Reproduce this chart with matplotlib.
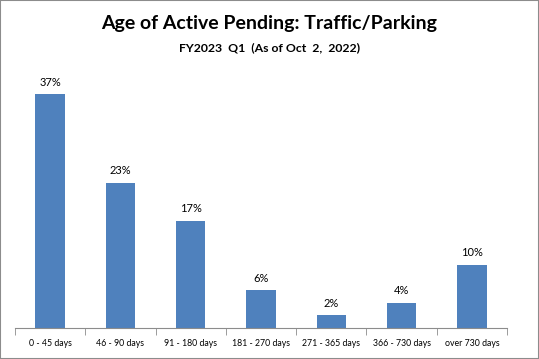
import numpy as np
import matplotlib
matplotlib.use('Agg')
import matplotlib.pyplot as plt

categories = ['0 - 45 days', '46 - 90 days', '91 - 180 days', '181 - 270 days',
              '271 - 365 days', '366 - 730 days', 'over 730 days']
values = [37, 23, 17, 6, 2, 4, 10]

plt.rcParams['font.family'] = ['Lato', 'DejaVu Sans']

fig = plt.figure(figsize=(5.39, 3.59), dpi=100)
fig.patches.append(plt.Rectangle((0, 0), 1, 1, transform=fig.transFigure,
                                 fill=False, edgecolor='#8c8c8c', linewidth=1.5))

# axes: x 15..507 px, bottom at 328 px
ax = fig.add_axes([15 / 539, (359 - 328) / 359, 492 / 539, 268 / 359])
x = np.arange(len(categories))
ax.bar(x, values, width=0.42, color='#4f81bd')
ax.set_xlim(-0.5, len(categories) - 0.5)
ax.set_ylim(0, 268 / 6.32)

for xi, v in zip(x, values):
    ax.text(xi, v + 1.0, '%d%%' % v, ha='center', va='bottom', fontsize=8)

for s in ['top', 'right', 'left']:
    ax.spines[s].set_visible(False)
ax.spines['bottom'].set_color('#8c8c8c')
ax.set_yticks([])
ax.set_xticks(x)
ax.set_xticklabels(categories, fontsize=6.3)
ax.tick_params(axis='x', which='major', length=0, pad=8)
ax.set_xticks(np.arange(-0.5, len(categories)), minor=True)
ax.tick_params(axis='x', which='minor', length=5, color='#8c8c8c')

fig.text(0.5, 1 - 23 / 359, 'Age of Active Pending: Traffic/Parking', ha='center', va='center',
         fontsize=14, fontweight='bold')
fig.text(0.5, 1 - 48 / 359, 'FY2023  Q1  (As of Oct  2,  2022)', ha='center', va='center',
         fontsize=8.8, fontweight='bold')

plt.savefig('out.png', dpi=100)
